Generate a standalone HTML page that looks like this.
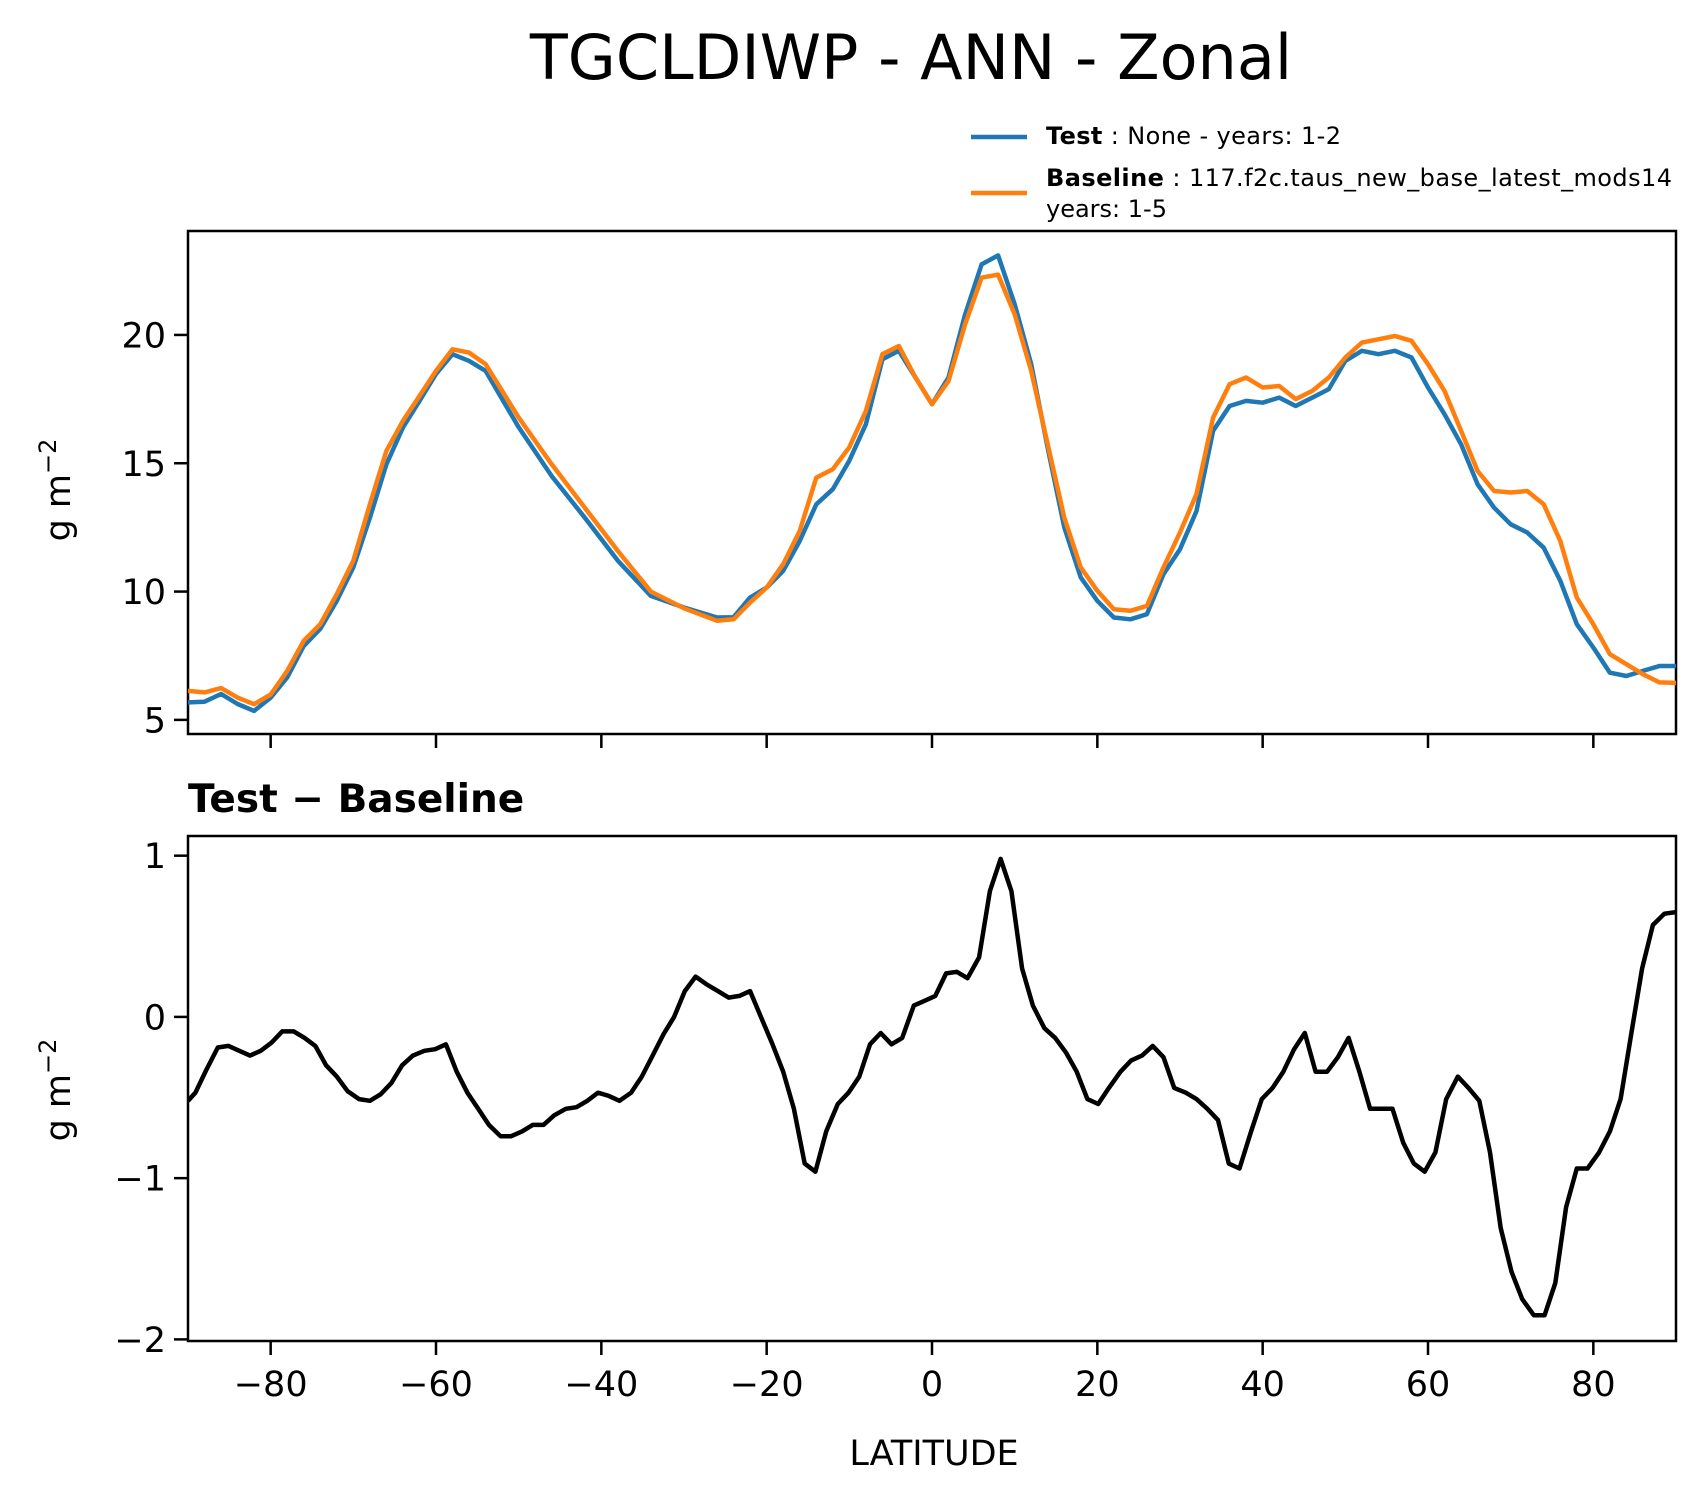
<!DOCTYPE html>
<html><head><meta charset="utf-8"><style>
html,body{margin:0;padding:0;background:#fff;}
svg text{font-family:"DejaVu Sans","Liberation Sans",sans-serif;}
</style></head><body>
<svg id="chart" xmlns="http://www.w3.org/2000/svg" width="1705" height="1496" viewBox="0 0 1705 1496">
<rect width="1705" height="1496" fill="#fff"/>
<text x="911" y="79" font-size="62" text-anchor="middle">TGCLDIWP - ANN - Zonal</text>
<g>
  <line x1="971" y1="137" x2="1027" y2="137" stroke="#1f77b4" stroke-width="4.5"/>
  <text x="1046" y="144" font-size="24" textLength="295"><tspan font-weight="bold">Test</tspan> : None - years: 1-2</text>
  <line x1="971" y1="193" x2="1027" y2="193" stroke="#ff7f0e" stroke-width="4.5"/>
  <text x="1046" y="186" font-size="24" textLength="626"><tspan font-weight="bold">Baseline</tspan> : 117.f2c.taus_new_base_latest_mods14</text>
  <text x="1046" y="217" font-size="24">years: 1-5</text>
</g>
<g id="topPanel"></g>
<text x="188" y="812" font-size="39" font-weight="bold">Test − Baseline</text>
<g id="botPanel"></g>
<text x="934" y="1465" font-size="35" text-anchor="middle">LATITUDE</text>
<g transform="translate(70,490) rotate(-90)"><text x="0" y="0" font-size="35" text-anchor="middle">g m<tspan dy="-14" font-size="24">−2</tspan></text></g>
<g transform="translate(70,1090) rotate(-90)"><text x="0" y="0" font-size="35" text-anchor="middle">g m<tspan dy="-14" font-size="24">−2</tspan></text></g>
</svg>
<script>
const lats = [-90,-88,-86,-84,-82,-80,-78,-76,-74,-72,-70,-68,-66,-64,-62,-60,-58,-56,-54,-50,-46,-42,-38,-34,-30,-26,-24,-22,-20,-18,-16,-14,-12,-10,-8,-6,-4,-2,0,2,4,6,8,10,12,14,16,18,20,22,24,26,28,30,32,34,36,38,40,42,44,46,48,50,52,54,56,58,60,62,64,66,68,70,72,74,76,78,80,82,84,86,88,90];
const testVals = [5.68,5.71,6.01,5.62,5.35,5.87,6.65,7.88,8.55,9.64,10.94,12.88,14.96,16.39,17.43,18.48,19.25,18.99,18.6,16.4,14.5,12.88,11.2,9.83,9.38,8.99,9.0,9.77,10.16,10.81,11.97,13.4,13.99,15.1,16.52,19.05,19.38,18.34,17.3,18.34,20.8,22.75,23.1,21.19,18.86,15.6,12.5,10.55,9.64,8.99,8.92,9.12,10.68,11.65,13.14,16.26,17.23,17.43,17.36,17.56,17.23,17.56,17.89,18.99,19.38,19.25,19.38,19.12,17.95,16.91,15.74,14.18,13.27,12.62,12.3,11.71,10.42,8.73,7.82,6.84,6.71,6.91,7.1,7.1];
const baseVals = [6.13,6.07,6.24,5.87,5.61,5.99,6.91,8.08,8.73,9.9,11.2,13.4,15.48,16.65,17.62,18.6,19.44,19.31,18.86,16.78,14.96,13.27,11.58,10.0,9.35,8.86,8.92,9.57,10.16,11.07,12.36,14.44,14.77,15.62,17.04,19.25,19.57,18.34,17.3,18.2,20.42,22.23,22.35,20.8,18.6,15.74,12.88,10.94,10.03,9.31,9.25,9.44,10.94,12.3,13.8,16.78,18.08,18.34,17.95,18.01,17.5,17.82,18.34,19.12,19.7,19.83,19.96,19.77,18.86,17.82,16.26,14.7,13.92,13.86,13.92,13.4,11.97,9.77,8.73,7.56,7.17,6.78,6.46,6.44];
const diffLats = [-90,-89.1,-87.8,-86.4,-85.1,-83.8,-82.5,-81.2,-79.9,-78.6,-77.2,-75.9,-74.6,-73.3,-72.0,-70.7,-69.3,-68.0,-66.7,-65.4,-64.1,-62.8,-61.4,-60.1,-58.8,-57.5,-56.2,-54.9,-53.6,-52.2,-50.9,-49.6,-48.3,-47.0,-45.7,-44.3,-43.0,-41.7,-40.4,-39.1,-37.8,-36.4,-35.1,-33.8,-32.5,-31.2,-29.9,-28.6,-27.2,-25.9,-24.6,-23.3,-22.0,-20.7,-19.3,-18.0,-16.7,-15.4,-14.1,-12.8,-11.4,-10.1,-8.8,-7.5,-6.2,-4.9,-3.6,-2.2,-0.9,0.4,1.7,3.0,4.3,5.7,7.0,8.3,9.6,10.9,12.2,13.6,14.9,16.2,17.5,18.8,20.1,21.4,22.8,24.1,25.4,26.7,28.0,29.3,30.7,32.0,33.3,34.6,35.9,37.2,38.6,39.9,41.2,42.5,43.8,45.1,46.4,47.8,49.1,50.4,51.7,53.0,54.3,55.7,57.0,58.3,59.6,60.9,62.2,63.6,64.9,66.2,67.5,68.8,70.1,71.4,72.8,74.1,75.4,76.7,78.0,79.3,80.7,82.0,83.3,84.6,85.9,87.2,88.6,90];
const diffVals = [-0.52,-0.47,-0.33,-0.19,-0.18,-0.21,-0.24,-0.21,-0.16,-0.09,-0.09,-0.13,-0.18,-0.30,-0.37,-0.46,-0.51,-0.52,-0.48,-0.41,-0.30,-0.24,-0.21,-0.20,-0.17,-0.34,-0.47,-0.57,-0.67,-0.74,-0.74,-0.71,-0.67,-0.67,-0.61,-0.57,-0.56,-0.52,-0.47,-0.49,-0.52,-0.47,-0.37,-0.24,-0.11,0,0.16,0.25,0.20,0.16,0.12,0.13,0.16,0,-0.17,-0.34,-0.57,-0.91,-0.96,-0.71,-0.54,-0.47,-0.37,-0.17,-0.10,-0.17,-0.13,0.07,0.10,0.13,0.27,0.28,0.24,0.37,0.78,0.98,0.78,0.30,0.07,-0.07,-0.13,-0.22,-0.34,-0.51,-0.54,-0.44,-0.34,-0.27,-0.24,-0.18,-0.25,-0.44,-0.47,-0.51,-0.57,-0.64,-0.91,-0.94,-0.71,-0.51,-0.44,-0.34,-0.20,-0.10,-0.34,-0.34,-0.25,-0.13,-0.34,-0.57,-0.57,-0.57,-0.78,-0.91,-0.96,-0.84,-0.51,-0.37,-0.44,-0.52,-0.84,-1.31,-1.58,-1.75,-1.85,-1.85,-1.65,-1.18,-0.94,-0.94,-0.84,-0.71,-0.51,-0.10,0.30,0.57,0.64,0.65];
const xTicks = [-80,-60,-40,-20,0,20,40,60,80];
const topYTicks = [5,10,15,20];
const botYTicks = [-2,-1,0,1];

const NS = "http://www.w3.org/2000/svg";
const X0 = 188, X1 = 1676;
const xS = v => X0 + (v + 90) / 180 * (X1 - X0);
const topBox = {t: 231, b: 734, ymin: 4.45, ymax: 24.05};
const botBox = {t: 836, b: 1341, ymin: -2.01, ymax: 1.122};
const yS = (box, v) => box.b - (v - box.ymin) / (box.ymax - box.ymin) * (box.b - box.t);
function mk(tag, attrs, parent) {
  const e = document.createElementNS(NS, tag);
  for (const k in attrs) e.setAttribute(k, attrs[k]);
  parent.appendChild(e);
  return e;
}
function fmt(v) { return v < 0 ? "\u2212" + Math.abs(v) : String(v); }
function drawPanel(g, box, yTicks, showXLabels) {
  for (const t of yTicks) {
    const y = yS(box, t);
    const tk = mk("line", {x1: X0 - 14, x2: X0, y1: y, y2: y, stroke: "#000", "stroke-width": 2.5}, g);
    
    
    const lb = mk("text", {x: X0 - 22, y: y + 12.5, "font-size": 35, "text-anchor": "end"}, g);
    lb.textContent = fmt(t);
    
    
  }
  for (const t of xTicks) {
    const x = xS(t);
    const tk = mk("line", {x1: x, x2: x, y1: box.b, y2: box.b + 14, stroke: "#000", "stroke-width": 2.5}, g);
    
    
    if (showXLabels) {
      const lb = mk("text", {x: x, y: box.b + 55, "font-size": 35, "text-anchor": "middle"}, g);
      lb.textContent = fmt(t);
      
      
    }
  }
}
function drawLine(g, box, xs, ys, color, name) {
  let d = "";
  for (let i = 0; i < xs.length; i++) d += (i ? "L" : "M") + xS(xs[i]).toFixed(1) + " " + yS(box, ys[i]).toFixed(1);
  const p = mk("path", {d: d, fill: "none", stroke: color, "stroke-width": 4.5, "stroke-linejoin": "round", "clip-path": "url(#clip-" + box.t + ")"}, g);
  
  
}
function frame(g, box) {
  const defs = mk("defs", {}, g);
  const cp = mk("clipPath", {id: "clip-" + box.t}, defs);
  mk("rect", {x: X0, y: box.t, width: X1 - X0, height: box.b - box.t}, cp);
  const r = mk("rect", {x: X0, y: box.t, width: X1 - X0, height: box.b - box.t, fill: "none", stroke: "#000", "stroke-width": 2.5}, g);
  
  
}
const topG = document.getElementById("topPanel");
const botG = document.getElementById("botPanel");
frame(topG, topBox);
drawPanel(topG, topBox, topYTicks, false);
drawLine(topG, topBox, lats, testVals, "#1f77b4", "test-line");
drawLine(topG, topBox, lats, baseVals, "#ff7f0e", "baseline-line");
frame(botG, botBox);
drawPanel(botG, botBox, botYTicks, true);
drawLine(botG, botBox, diffLats, diffVals, "#000", "difference-line");
</script>
</body></html>
